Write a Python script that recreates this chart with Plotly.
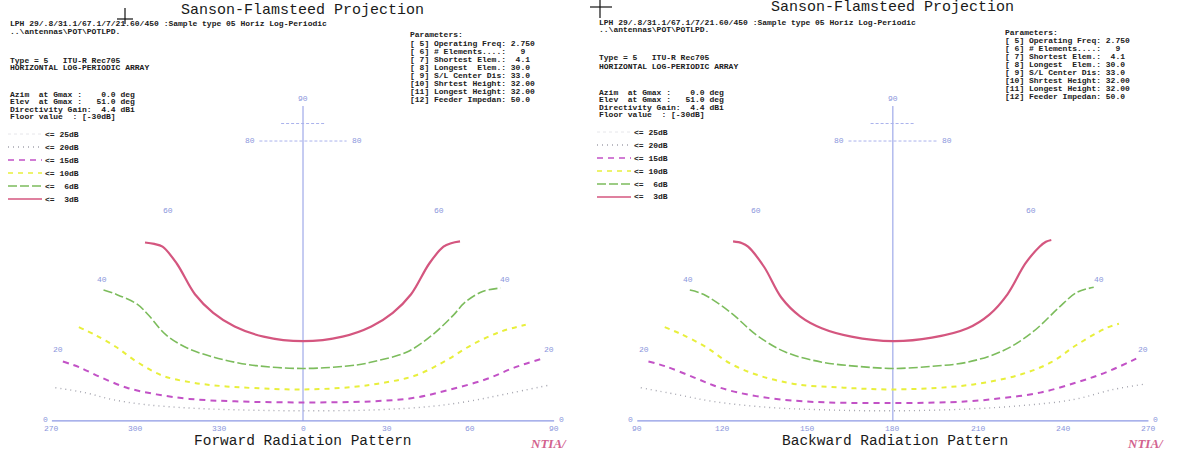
import numpy as np
import plotly.graph_objects as go

W, H = 1178, 457

# ---------------- data: contour lines (azimuth deg, elevation deg) ----------------
levels = ["3dB", "6dB", "10dB", "15dB", "20dB"]

# Forward pattern (azimuth centred on 0; -90 == 270)
fwd_az_3 = [-90, -84, -78, -64, -48, -37.5, -27.5, -15.5, 0, 15.5, 27.5, 37.5, 48, 64, 78, 84, 90]
fwd_el_3 = [51.0, 50.6, 49.8, 45.0, 36.2, 30.9, 27.0, 24.1, 22.8, 24.1, 27.0, 30.9, 36.2, 45.0, 49.8, 50.8, 51.3]
fwd_az_6 = [-90, -83, -71, -64, -54, -44, -34, -25.6, -17.4, 0, 20, 28.3, 39.6, 51, 62.7, 69.7, 80.6, 90]
fwd_el_6 = [37.4, 36.2, 33.3, 30.2, 24.6, 20.7, 18.3, 16.8, 15.8, 15.0, 16.0, 17.3, 19.7, 24.6, 30.4, 33.8, 37.0, 38.0]
fwd_az_10 = [-90, -82, -72, -62, -51.5, -40.6, -30, -18, 0, 18, 30, 41, 52.5, 65, 78.4, 90]
fwd_el_10 = [26.8, 24.6, 21.2, 16.8, 12.9, 11.0, 10.0, 9.4, 9.0, 9.7, 11.0, 12.9, 16.8, 21.7, 25.5, 27.5]
fwd_az_15 = [-90, -83, -74, -64, -53, -41, -24.5, 0, 24.5, 40, 53.5, 67, 78.7, 90]
fwd_el_15 = [17.0, 15.3, 12.4, 9.5, 7.6, 6.3, 5.6, 5.3, 5.6, 6.6, 9.0, 11.9, 15.3, 17.8]
fwd_az_20 = [-90, -79, -68.6, -57, -41, -24.5, 0, 27, 46.4, 59.5, 72.7, 90]
fwd_el_20 = [9.5, 8.1, 6.1, 4.7, 3.7, 3.2, 2.9, 3.2, 4.2, 5.6, 7.6, 10.3]

# Backward pattern (azimuth 90..270, centred on 180)
bwd_az_3 = [90, 96, 101, 117, 132, 142.3, 152, 164, 180, 195, 209.4, 219.4, 230, 246, 260, 266, 270]
bwd_el_3 = [51.3, 50.8, 49.8, 44.0, 35.2, 29.9, 26.5, 24.1, 22.8, 23.8, 26.5, 30.4, 36.2, 45.0, 49.8, 51.2, 51.7]
bwd_az_6 = [90, 97.3, 113.6, 127.1, 139.8, 153.9, 167.3, 180, 194, 207.5, 221.7, 234.7, 249, 260.7, 270]
bwd_el_6 = [37.4, 36.2, 30.9, 24.6, 19.7, 16.8, 15.6, 15.0, 15.6, 16.8, 20.2, 25.5, 32.3, 36.7, 38.2]
bwd_az_10 = [90, 97.2, 109.2, 120.6, 132, 145.4, 162.5, 180, 200.2, 213.3, 226.8, 238.3, 249.6, 263.8, 270]
bwd_el_10 = [26.8, 25.0, 21.2, 16.3, 12.9, 10.5, 9.5, 9.0, 9.7, 11.0, 13.4, 16.8, 21.7, 26.5, 27.8]
bwd_az_15 = [90, 96.9, 108.4, 118.3, 131.5, 148.5, 180, 206.4, 219.4, 232.4, 245.9, 257.3, 270]
bwd_el_15 = [17.0, 15.6, 12.4, 9.5, 7.1, 5.6, 5.1, 5.6, 6.6, 8.1, 11.0, 13.9, 17.8]
bwd_az_20 = [90, 103, 116.2, 135.7, 155, 180, 206.3, 225.6, 243.9, 258.6, 270]
bwd_el_20 = [9.5, 7.6, 5.6, 3.9, 3.2, 2.9, 3.4, 4.4, 6.1, 9.0, 10.5]

# tick labels
fwd_tick_az = [-90, -60, -30, 0, 30, 60, 90]
fwd_tick_txt = ["270", "300", "330", "0", "30", "60", "90"]
bwd_tick_az = [90, 120, 150, 180, 210, 240, 270]
bwd_tick_txt = ["90", "120", "150", "180", "210", "240", "270"]
elev_labels = [0, 20, 40, 60, 80]
grid_parallels = [80, 85]

legend_levels = ["25dB", "20dB", "15dB", "10dB", " 6dB", " 3dB"]

header_lines = [
    "LPH 29/.8/31.1/67.1/7/21.60/450 :Sample type 05 Horiz Log-Periodic",
    "..\\antennas\\POT\\POTLPD.",
]
type_lines = ["Type = 5   ITU-R Rec705", "HORIZONTAL LOG-PERIODIC ARRAY"]
gmax_lines = [
    "Azim  at Gmax :    0.0 deg",
    "Elev  at Gmax :   51.0 deg",
    "Directivity Gain:  4.4 dBi",
    "Floor value  : [-30dB]",
]
param_lines = [
    "Parameters:",
    "[ 5] Operating Freq: 2.750",
    "[ 6] # Elements....:   9",
    "[ 7] Shortest Elem.:  4.1",
    "[ 8] Longest  Elem.: 30.0",
    "[ 9] S/L Center Dis: 33.0",
    "[10] Shrtest Height: 32.00",
    "[11] Longest Height: 32.00",
    "[12] Feeder Impedan: 50.0",
]

# ---------------- styling ----------------
AX = "#8c98e4"
LBL = "#8a96dc"
styles = {
    "3dB": dict(color="#d4567f", width=2.2, dash="solid"),
    "6dB": dict(color="#7cbc5c", width=1.6, dash="9px,3px"),
    "10dB": dict(color="#e8ef3c", width=2.0, dash="5px,5px"),
    "15dB": dict(color="#c252c6", width=2.0, dash="6px,5px"),
    "20dB": dict(color="#a4a4ae", width=1.4, dash="1px,4px"),
}
legend_styles = [
    dict(color="#e6e6ea", width=1, dash="dot"),
    styles["20dB"], styles["15dB"], styles["10dB"], styles["6dB"], styles["3dB"],
]


def proj(az, el, c):
    az = np.asarray(az, float)
    el = np.asarray(el, float)
    return c + (az - c) * np.cos(np.radians(el)), el


def px(x):
    return x / W


def py(y):
    return 1 - y / H


fig = go.Figure()

panels = [
    dict(c=0.0, xa="x", ya="y",
         data=[(fwd_az_3, fwd_el_3), (fwd_az_6, fwd_el_6), (fwd_az_10, fwd_el_10),
               (fwd_az_15, fwd_el_15), (fwd_az_20, fwd_el_20)],
         ticks=(fwd_tick_az, fwd_tick_txt), title_x=302, title_y=11, hdr_x=8, hdr_dy=0,
         par_x=408, par_y=35, bottom="Forward Radiation Pattern", bottom_x=303,
         ntia="NTIA/", ntia_x=528),
    dict(c=180.0, xa="x2", ya="y2",
         data=[(bwd_az_3, bwd_el_3), (bwd_az_6, bwd_el_6), (bwd_az_10, bwd_el_10),
               (bwd_az_15, bwd_el_15), (bwd_az_20, bwd_el_20)],
         ticks=(bwd_tick_az, bwd_tick_txt), title_x=892, title_y=8, hdr_x=597, hdr_dy=-2,
         par_x=1003, par_y=32, bottom="Backward Radiation Pattern", bottom_x=895,
         ntia="NTIA/", ntia_x=1125),
]

ann = []
shapes = []
mono = "Liberation Mono, Courier New, monospace"


def txt(x, y, s, size=8, color="#202020", xanchor="left", bold=True, family=mono, **kw):
    t = s.replace(" ", "&nbsp;")
    if bold:
        t = "<b>" + t + "</b>"
    d = dict(x=px(x), y=py(y), xref="paper", yref="paper", text=t, showarrow=False,
             xanchor=xanchor, yanchor="middle", font=dict(family=family, size=size, color=color))
    d.update(kw)
    ann.append(d)


for p in panels:
    c = p["c"]
    # frame: baseline, central meridian, short parallels
    bx, by = proj([c - 90, c + 90], [0, 0], c)
    fig.add_trace(go.Scatter(x=bx, y=by, mode="lines", line=dict(color=AX, width=1.3),
                             xaxis=p["xa"], yaxis=p["ya"], hoverinfo="skip"))
    fig.add_trace(go.Scatter(x=[c, c], y=[0, 90], mode="lines", line=dict(color=AX, width=1),
                             xaxis=p["xa"], yaxis=p["ya"], hoverinfo="skip"))
    for g in grid_parallels:
        gx, gy = proj([c - 90, c + 90], [g, g], c)
        fig.add_trace(go.Scatter(x=gx, y=gy, mode="lines",
                                 line=dict(color="#aab2ec", width=1, dash="3px,2px"),
                                 xaxis=p["xa"], yaxis=p["ya"], hoverinfo="skip"))
    # contour lines (draw low levels first)
    for lev, (az, el) in reversed(list(zip(levels, p["data"]))):
        x, y = proj(az, el, c)
        fig.add_trace(go.Scatter(x=x, y=y, mode="lines", line_shape="spline",
                                 line=dict(smoothing=1.0, **styles[lev]),
                                 xaxis=p["xa"], yaxis=p["ya"], hoverinfo="skip", name=lev))
    # elevation labels
    for e in elev_labels:
        for side in (-1, 1):
            lx, ly = proj([c + side * 90], [e], c)
            ann.append(dict(x=lx[0], y=ly[0], xref=p["xa"], yref=p["ya"], text=str(e),
                            showarrow=False, xanchor="right" if side < 0 else "left",
                            yanchor="middle",
                            xshift=-2 if side < 0 else 3, yshift=1,
                            font=dict(family=mono, size=8, color=LBL)))
    ann.append(dict(x=c, y=90, xref=p["xa"], yref=p["ya"], text="90", showarrow=False,
                    xanchor="center", yanchor="bottom", yshift=1,
                    font=dict(family=mono, size=8, color=LBL)))
    # azimuth tick labels
    for t, s in zip(*p["ticks"]):
        ann.append(dict(x=t, y=0, xref=p["xa"], yref=p["ya"], text=s, showarrow=False,
                        xanchor="center", yanchor="top", yshift=-1,
                        font=dict(family=mono, size=8, color=LBL)))
    # titles
    txt(p["title_x"], p["title_y"], "Sanson-Flamsteed Projection", size=15, color="#1a1a1a",
        xanchor="center", bold=False)
    txt(p["bottom_x"], 441, p["bottom"], size=14.5, color="#1a1a1a", xanchor="center", bold=False)
    ann.append(dict(x=px(p["ntia_x"]), y=py(443), xref="paper", yref="paper", xanchor="left",
                    yanchor="middle", text="<b><i>" + p["ntia"] + "</i></b>", showarrow=False,
                    font=dict(family="Liberation Serif, serif", size=13, color="#d2628e")))
    # header text
    hx, dy = p["hdr_x"], p["hdr_dy"]
    blocks = [(header_lines, 24, 7.2), (type_lines, 60, 8.0), (gmax_lines, 94, 7.6)]
    for lines, y0, step in blocks:
        for i, s in enumerate(lines):
            txt(hx, y0 + dy + i * step, s)
    for i, s in enumerate(param_lines):
        yy = p["par_y"] + (0 if i == 0 else 8.2 + (i - 1) * 8.1)
        txt(p["par_x"], yy, s)
    # legend
    for i, (lab, st) in enumerate(zip(legend_levels, legend_styles)):
        yy = 134 + dy + i * 13
        shapes.append(dict(type="line", xref="paper", yref="paper",
                           x0=px(hx), x1=px(hx + 34), y0=py(yy), y1=py(yy),
                           line=dict(color=st["color"], width=min(st["width"], 1.6), dash=st["dash"])))
        txt(hx + 35, yy, "<= " + lab)

# registration marks from the scan
for (cx, cy, vy0, vy1, hx0, hx1) in [(125, 19, 8, 24, 117, 133), (600, 7, 0, 18, 590, 612)]:
    shapes.append(dict(type="line", xref="paper", yref="paper", x0=px(cx), x1=px(cx),
                       y0=py(vy0), y1=py(vy1), line=dict(color="#111", width=1.2)))
    shapes.append(dict(type="line", xref="paper", yref="paper", x0=px(hx0), x1=px(hx1),
                       y0=py(cy), y1=py(cy), line=dict(color="#111", width=1.2)))

fig.update_layout(
    width=W, height=H, margin=dict(l=0, r=0, t=0, b=0),
    paper_bgcolor="white", plot_bgcolor="white", showlegend=False,
    xaxis=dict(domain=[0, 0.5], range=[-108.6, 102.5], visible=False, fixedrange=True),
    yaxis=dict(domain=[0, 1], range=[-10.3, 120.3], visible=False, fixedrange=True),
    xaxis2=dict(domain=[0.5, 1], range=[73.0, 280.4], visible=False, anchor="y2", fixedrange=True),
    yaxis2=dict(domain=[0, 1], range=[-10.3, 120.3], visible=False, anchor="x2", fixedrange=True),
    annotations=ann, shapes=shapes,
)

fig.write_html("out.html")
